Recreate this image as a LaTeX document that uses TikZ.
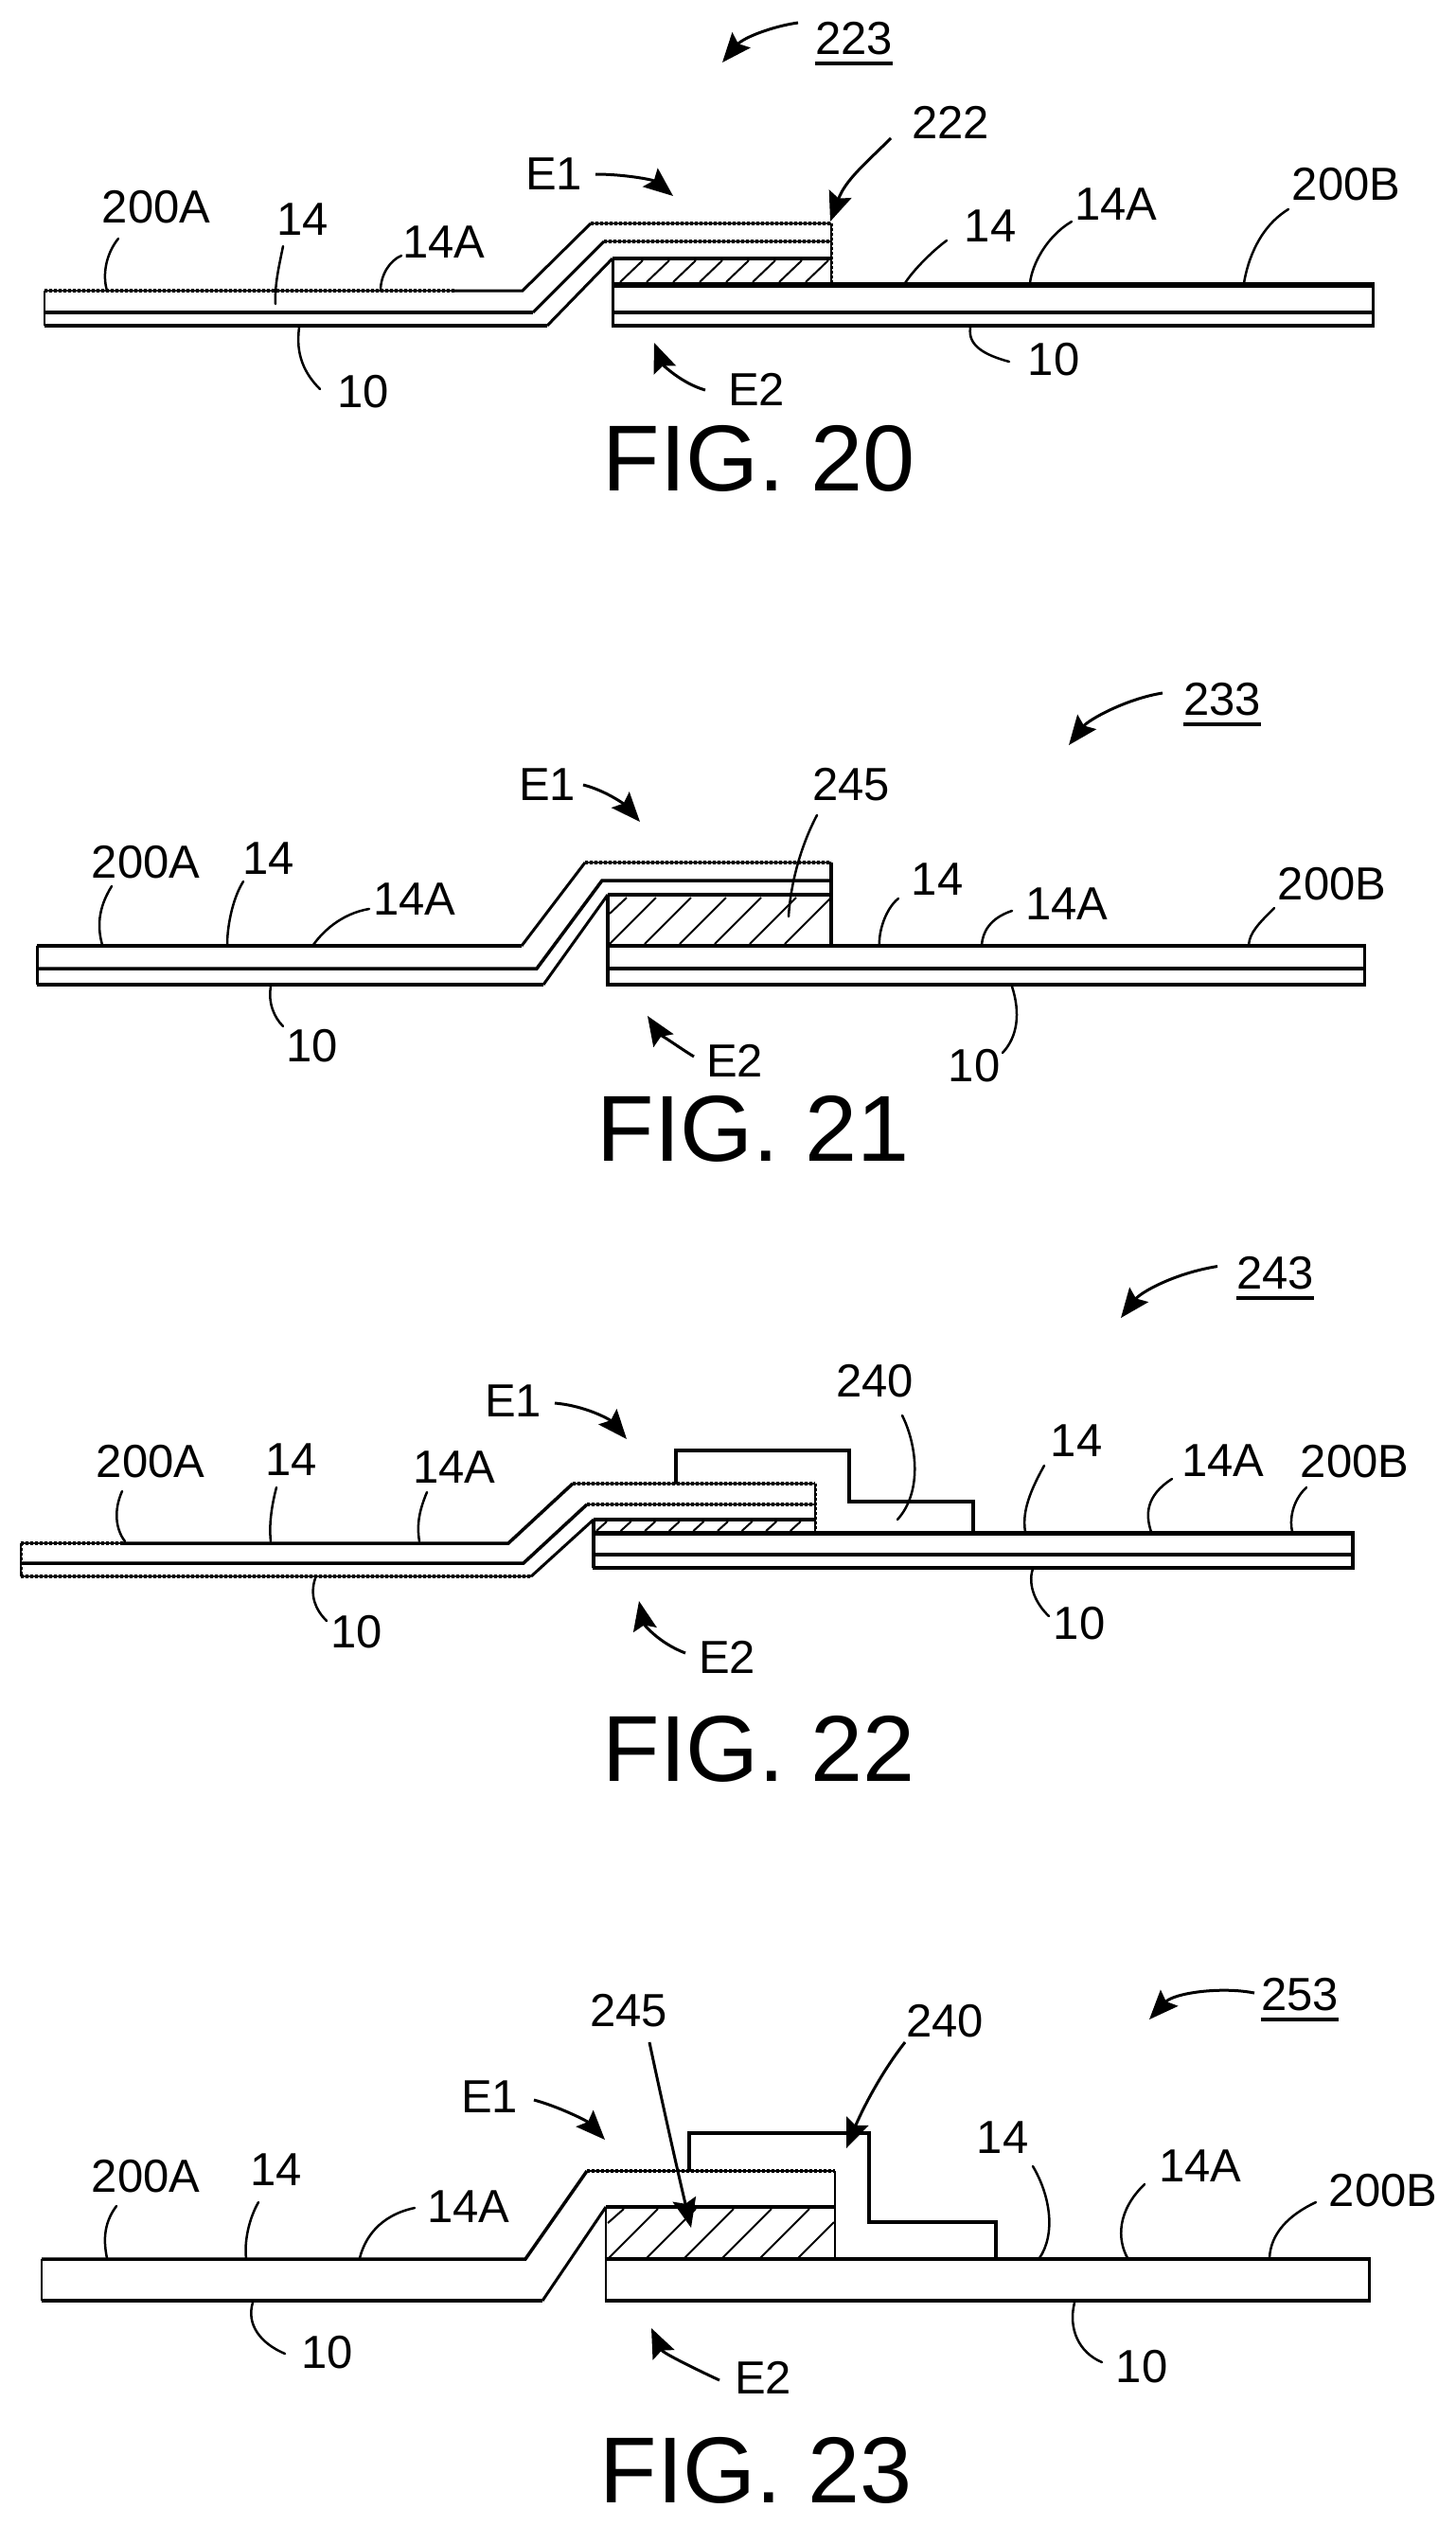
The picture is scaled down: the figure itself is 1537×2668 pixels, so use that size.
\documentclass[tikz,border=0pt]{standalone}
\usepackage{fontspec}
\setmainfont{Liberation Sans}
\usetikzlibrary{arrows.meta}
\tikzset{
  lbl/.style={inner sep=0pt,font=\fontsize{49}{49}\selectfont},
  figlbl/.style={inner sep=0pt,font=\fontsize{99}{99}\selectfont},
  lead/.style={line width=2.5pt,line cap=round},
  arw/.style={line width=3pt,-{Stealth[length=31pt,width=25pt,inset=5pt]}},
  hatch/.style={line width=2pt},
  dsh/.style={dash pattern=on 3pt off 2pt,preaction={draw,solid,line width=2.2pt}},
  ul/.style={line width=4pt},
}
\newcommand{\lab}[3]{\node[lbl] (#1) at (#2) {#3};}
% style, label node, start offset from label centre, two control points, free end
\newcommand{\ldr}[6]{\coordinate (#2e) at (#6);
  \draw[#1] (#2.center) ++(#3) .. controls (#4) and (#5) .. (#2e);}
\newcommand{\ulin}[1]{\draw[ul] ([yshift=-8pt]#1.south west) -- ([yshift=-8pt]#1.south east);}
\begin{document}
\begin{tikzpicture}[x=1pt,y=-1pt,line join=miter]
\useasboundingbox (0,0) rectangle (1537,2668);

%% ---------- FIG. 20 ----------
\draw[line width=3.4pt,dsh] (47,307) -- (480,307);
\draw[line width=3pt] (480,307) -- (552,307) -- (624,236);
\draw[line width=3.4pt,dsh] (624,236) -- (878,236);
\draw[line width=4.5pt] (47,330) -- (563,330);
\draw[line width=3pt] (563,330) -- (638,255);
\draw[line width=3.4pt,dsh] (638,255) -- (878,255);
\draw[line width=4pt] (47,344) -- (578,344);
\draw[line width=3pt] (578,344) -- (647,273);
\draw[line width=4pt] (647,273) -- (878,273);
\draw[line width=3pt,dsh] (878,236) -- (878,301);
\draw[line width=2.5pt] (47,307) -- (47,344);
\draw[line width=3pt] (647,273) -- (647,344);
\draw[line width=5.5pt] (645.5,301) -- (1452,301);
\draw[line width=4.5pt] (647,330) -- (1452,330);
\draw[line width=4pt] (645.5,344) -- (1452,344);
\draw[line width=3pt] (1450,301) -- (1450,344);
\foreach \k in {0,...,7} \draw[hatch] ({655+28*\k},298) -- ({679+28*\k},275);

\lab{a223}{902,41}{223}\ulin{a223}
\ldr{arw}{a223}{-59,-17}{815,28}{785,40}{763,66}
\lab{a200A}{165,219}{200A}
\ldr{lead}{a200A}{-40,33}{112,268}{108,290}{113,307}
\lab{a14}{320,232}{14}
\ldr{lead}{a14}{-21,28}{295,280}{290,300}{291,321}
\lab{a14A}{469,256}{14A}
\ldr{lead}{a14A}{-45,14}{412,275}{402,290}{402,307}
\lab{a10}{384,414}{10}
\ldr{lead}{a10}{-68,-68}{312,375}{322,395}{338,411}
\lab{aE1}{585,184}{E1}
\ldr{arw}{aE1}{44,0}{660,184}{690,190}{711,207}
\lab{a222}{1004,129}{222}
\ldr{arw}{a222}{-63,17}{915,172}{893,190}{877,234}
\lab{a14r}{1046,239}{14}
\ldr{lead}{a14r}{-46,15}{985,265}{965,285}{956,299}
\lab{a14Ar}{1179,216}{14A}
\ldr{lead}{a14Ar}{-47,18}{1105,250}{1090,280}{1088,299}
\lab{a200B}{1422,195}{200B}
\ldr{lead}{a200B}{-61,26}{1330,240}{1318,275}{1314,299}
\lab{a10r}{1113,380}{10}
\ldr{lead}{a10r}{-88,-34}{1022,365}{1040,375}{1066,382}
\lab{aE2}{799,411}{E2}
\ldr{arw}{aE2}{-54,1}{720,405}{700,385}{691,362}
\node[figlbl] (afig) at (802,484) {FIG. 20};

%% ---------- FIG. 21 ----------
\draw[line width=4.5pt] (39,999) -- (551,999);
\draw[line width=3pt] (551,999) -- (618,911);
\draw[line width=3.4pt,dsh] (618,911) -- (878,911);
\draw[line width=3.5pt] (39,1023) -- (567,1023) -- (636,930) -- (878,930);
\draw[line width=4.5pt] (39,1040) -- (574,1040);
\draw[line width=3pt] (574,1040) -- (642,945);
\draw[line width=4.5pt] (642,945) -- (878,945);
\draw[line width=3pt] (39,999) -- (39,1040);
\draw[line width=3.5pt] (642,945) -- (642,1040);
\draw[line width=3.5pt] (878,911) -- (878,999);
\draw[line width=4.5pt] (640,999) -- (1443,999);
\draw[line width=4pt] (642,1023) -- (1443,1023);
\draw[line width=4.5pt] (640,1040) -- (1443,1040);
\draw[line width=3pt] (1441,999) -- (1441,1040);
\draw[hatch] (644,965) -- (662,948);
\foreach \k in {0,...,5} \draw[hatch] ({644+37*\k},997) -- ({693+37*\k},948);

\lab{b233}{1291,739}{233}\ulin{b233}
\ldr{arw}{b233}{-63,-7}{1190,738}{1150,760}{1129,787}
\lab{bE1}{578,829}{E1}
\ldr{arw}{bE1}{38,0}{640,835}{660,850}{676,868}
\lab{b245}{899,829}{245}
\ldr{lead}{b245}{-36,32}{845,895}{835,935}{833,968}
\lab{b200A}{154,911}{200A}
\ldr{lead}{b200A}{-36,25}{103,960}{103,980}{108,998}
\lab{b14}{284,907}{14}
\ldr{lead}{b14}{-27,24}{245,950}{240,980}{240,998}
\lab{b14A}{438,950}{14A}
\ldr{lead}{b14A}{-48,10}{360,965}{340,985}{331,998}
\lab{b14r}{990,929}{14}
\ldr{lead}{b14r}{-41,20}{935,960}{928,985}{929,998}
\lab{b14Ar}{1127,955}{14A}
\ldr{lead}{b14Ar}{-58,7}{1045,970}{1038,985}{1037,998}
\lab{b200B}{1407,934}{200B}
\ldr{lead}{b200B}{-61,25}{1330,975}{1320,985}{1319,998}
\lab{b10}{330,1105}{10}
\ldr{lead}{b10}{-44,-63}{283,1060}{290,1075}{299,1084}
\lab{b10r}{1029,1126}{10}
\ldr{lead}{b10r}{40,-84}{1078,1070}{1075,1095}{1059,1112}
\lab{bE2}{776,1120}{E2}
\ldr{arw}{bE2}{-43,-4}{715,1105}{695,1090}{684,1073}
\node[figlbl] (bfig) at (796,1192) {FIG. 21};

%% ---------- FIG. 22 ----------
\draw[line width=3.5pt,dsh] (22,1630) -- (130,1630);
\draw[line width=3.5pt] (130,1630) -- (537,1630) -- (605,1567);
\draw[line width=3.4pt,dsh] (605,1567) -- (861,1567);
\draw[line width=3.5pt] (22,1651) -- (553,1651) -- (620,1589);
\draw[line width=3.4pt,dsh] (620,1589) -- (861,1589);
\draw[line width=3.4pt,dsh] (22,1665) -- (561,1665);
\draw[line width=3pt] (561,1665) -- (627,1605);
\draw[line width=3.5pt] (627,1605) -- (861,1605);
\draw[line width=3pt,dsh] (22,1630) -- (22,1665);
\draw[line width=3.5pt] (627,1605) -- (627,1656);
\draw[line width=3pt,dsh] (861,1567) -- (861,1619);
\draw[line width=5pt] (625.5,1619) -- (1431,1619);
\draw[line width=4pt] (627,1642) -- (1431,1642);
\draw[line width=4pt] (625.5,1656) -- (1431,1656);
\draw[line width=4pt] (1429,1619) -- (1429,1656);
\draw[line width=3.5pt] (714,1567) -- (714,1532) -- (897,1532) -- (897,1586) -- (1028,1586) -- (1028,1619);
\foreach \k in {0,...,8} \draw[hatch] ({630+25.6*\k},1617) -- ({641+25.6*\k},1607);

\lab{c243}{1347,1345}{243}\ulin{c243}
\ldr{arw}{c243}{-61,-7.5}{1240,1345}{1205,1365}{1184,1392}
\lab{cE1}{542,1480}{E1}
\ldr{arw}{cE1}{44,2}{620,1485}{645,1500}{662,1520}
\lab{c240}{924,1459}{240}
\ldr{lead}{c240}{29,36}{968,1525}{975,1575}{948,1605}
\lab{c200A}{159,1544}{200A}
\ldr{lead}{c200A}{-30,31}{120,1595}{122,1615}{132,1628}
\lab{c14}{308,1542}{14}
\ldr{lead}{c14}{-16,29}{287,1590}{284,1610}{286,1628}
\lab{c14A}{480,1550}{14A}
\ldr{lead}{c14A}{-29,26}{443,1595}{440,1610}{443,1628}
\lab{c14r}{1137,1522}{14}
\ldr{lead}{c14r}{-34,26}{1085,1580}{1080,1600}{1083,1618}
\lab{c14Ar}{1292,1543}{14A}
\ldr{lead}{c14Ar}{-54,19}{1210,1580}{1210,1600}{1216,1618}
\lab{c200B}{1431,1544}{200B}
\ldr{lead}{c200B}{-51,27}{1365,1585}{1362,1605}{1365,1618}
\lab{c10}{377,1724}{10}
\ldr{lead}{c10}{-44,-57}{327,1685}{333,1700}{345,1712}
\lab{c10r}{1140,1715}{10}
\ldr{lead}{c10r}{-49,-58}{1085,1675}{1095,1695}{1108,1707}
\lab{cE2}{768,1750}{E2}
\ldr{arw}{cE2}{-44,-4}{695,1735}{680,1715}{675,1691}
\node[figlbl] (cfig) at (802,1847) {FIG. 22};

%% ---------- FIG. 23 ----------
\draw[line width=3.5pt] (44,2386) -- (555,2386) -- (620,2293);
\draw[line width=3.4pt,dsh] (620,2293) -- (882,2293);
\draw[line width=4pt] (44,2430) -- (573,2430);
\draw[line width=3pt] (573,2430) -- (640,2331);
\draw[line width=4pt] (640,2331) -- (882,2331);
\draw[line width=2.4pt,dsh] (44,2386) -- (44,2430);
\draw[line width=2.8pt,dsh] (640,2331) -- (640,2430);
\draw[line width=2.8pt,dsh] (882,2293) -- (882,2386);
\draw[line width=4.5pt] (638.5,2386) -- (1448,2386);
\draw[line width=4.5pt] (638.5,2430) -- (1448,2430);
\draw[line width=3pt] (1446,2386) -- (1446,2430);
\draw[line width=3.5pt] (728,2293) -- (728,2253) -- (918,2253) -- (918,2347) -- (1052,2347) -- (1052,2386);
\draw[hatch] (642,2348) -- (659,2333);
\foreach \k in {0,...,5} \draw[hatch] ({643+40*\k},2385) -- ({min(695+40*\k,881)},{max(2333,2385-min(52,881-643-40*\k))});

\lab{d253}{1373,2107}{253}\ulin{d253}
\ldr{arw}{d253}{-48,-2}{1290,2098}{1240,2105}{1214,2133}
\lab{d245}{664,2124}{245}
\ldr{arw}{d245}{22,33}{695,2200}{715,2290}{730,2353}
\lab{d240}{998,2135}{240}
\ldr{arw}{d240}{-42,22}{930,2190}{910,2230}{894,2269}
\lab{dE1}{517,2215}{E1}
\ldr{arw}{dE1}{47,3}{590,2225}{620,2240}{639,2260}
\lab{d200A}{154,2299}{200A}
\ldr{lead}{d200A}{-31,31}{108,2350}{110,2370}{113,2385}
\lab{d14}{292,2292}{14}
\ldr{lead}{d14}{-19,34}{262,2345}{258,2370}{260,2385}
\lab{d14A}{495,2331}{14A}
\ldr{lead}{d14A}{-57,1}{400,2340}{385,2365}{380,2385}
\lab{d14r}{1059,2258}{14}
\ldr{lead}{d14r}{32,30}{1110,2320}{1115,2360}{1098,2385}
\lab{d14Ar}{1268,2288}{14A}
\ldr{lead}{d14Ar}{-59,19}{1180,2335}{1180,2365}{1191,2385}
\lab{d200B}{1461,2314}{200B}
\ldr{lead}{d200B}{-71,12}{1360,2340}{1342,2360}{1341,2385}
\lab{d10}{346,2485}{10}
\ldr{lead}{d10}{-79,-53}{260,2455}{275,2475}{301,2486}
\lab{d10r}{1206,2500}{10}
\ldr{lead}{d10r}{-71,-68}{1128,2460}{1140,2485}{1164,2495}
\lab{dE2}{806,2511}{E2}
\ldr{arw}{dE2}{-46,3}{730,2500}{700,2485}{688,2459}
\node[figlbl] (dfig) at (799,2609) {FIG. 23};
\end{tikzpicture}
\end{document}
